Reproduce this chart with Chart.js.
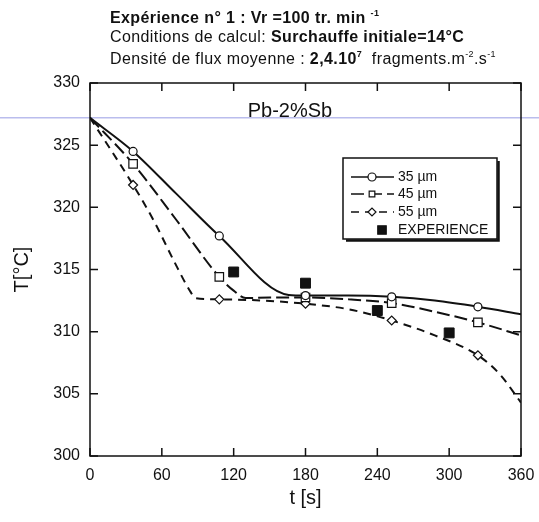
<!DOCTYPE html>
<html>
<head>
<meta charset="utf-8">
<script src="https://cdn.jsdelivr.net/npm/chart.js@4/dist/chart.umd.min.js"></script>
<style>
  body { margin: 0; background: #fff; }
  #wrap { position: relative; width: 539px; height: 522px; font-family: "Liberation Sans", Arial, sans-serif; color: #111; }
  #wrap canvas { position: absolute; left: 0; top: 0; }
  .hd { position: absolute; left: 110px; font-size: 16px; letter-spacing: 0.4px; white-space: nowrap; }
  .hd sup { font-size: 9px; vertical-align: 7px; line-height: 0; }
</style>
</head>
<body>
<div id="wrap">
  <canvas id="chart" width="539" height="522"></canvas>
  <div class="hd" style="top:9px;font-weight:bold">Expérience n° 1 : Vr =100 tr. min <sup>-1</sup></div>
  <div class="hd" style="top:28px">Conditions de calcul: <b>Surchauffe initiale=14°C</b></div>
  <div class="hd" style="top:50px">Densité de flux moyenne : <b>2,4.10<sup>7</sup></b>&nbsp; fragments.m<sup>-2</sup>.s<sup>-1</sup></div>
</div>

<script>
/* ---------------- DATA ---------------- */
const markerTimes = [36, 108, 180, 252, 324];

const t35 = [0, 36, 72, 108, 166, 180, 216, 252, 288, 324, 360];
const T35 = [327.2, 324.5, 321.1, 317.7, 312.95, 312.9, 312.9, 312.8, 312.5, 312.0, 311.4];

const t45 = [0, 36, 72, 108, 120, 130, 150, 180, 216, 252, 288, 324, 360];
const T45 = [327.2, 323.5, 319.0, 314.4, 313.3, 312.7, 312.75, 312.75, 312.6, 312.3, 311.6, 310.75, 309.7];

const t55 = [0, 36, 54, 70, 84, 88, 108, 144, 180, 216, 252, 288, 324, 342, 360];
const T55 = [327.2, 321.8, 318.8, 315.7, 313.2, 312.7, 312.6, 312.5, 312.25, 311.8, 310.9, 309.7, 308.1, 306.6, 304.3];

const tExp = [120, 180, 240, 300];
const TExp = [314.8, 313.9, 311.7, 309.9];

const seriesLabels = ["35 µm", "45 µm", "55 µm", "EXPERIENCE"];
const xTicks = [0, 60, 120, 180, 240, 300, 360];
const yTicks = [300, 305, 310, 315, 320, 325, 330];
const alloyLabel = "Pb-2%Sb";

/* ---------------- HELPERS ---------------- */
function pts(ts, vs) {
  return ts.map((t, i) => ({ x: t, y: vs[i] }));
}

function radii(ts, r) {
  return ts.map((t) => (markerTimes.includes(t) ? r : 0));
}

function curve(label, ts, vs, dash, style, r) {
  return {
    label,
    data: pts(ts, vs),
    borderColor: "#111",
    borderWidth: 2,
    borderDash: dash,
    pointStyle: style,
    pointRadius: radii(ts, r),
    pointBackgroundColor: "#fff",
    pointBorderColor: "#111",
    pointBorderWidth: 1.2,
    cubicInterpolationMode: "monotone",
    fill: false
  };
}

/* ---------------- PLUGINS ---------------- */
// frame, inward ticks, scan line and the alloy label
const framePlugin = {
  id: "frame",
  beforeDatasetsDraw(chart) {
    const { ctx, scales } = chart;
    ctx.save();
    // faint blue scan line across the page
    const yb = scales.y.getPixelForValue(327.2);
    ctx.strokeStyle = "rgba(140,145,225,0.6)";
    ctx.lineWidth = 1.5;
    ctx.beginPath();
    ctx.moveTo(0, yb);
    ctx.lineTo(chart.width, yb);
    ctx.stroke();
    ctx.restore();
  },
  afterDatasetsDraw(chart) {
    const { ctx, chartArea: a, scales } = chart;
    ctx.save();
    ctx.strokeStyle = "#111";
    ctx.lineWidth = 1.5;
    ctx.strokeRect(a.left, a.top, a.right - a.left, a.bottom - a.top);

    const len = 8;
    ctx.beginPath();
    xTicks.forEach((v) => {
      const x = scales.x.getPixelForValue(v);
      ctx.moveTo(x, a.bottom); ctx.lineTo(x, a.bottom - len);
      ctx.moveTo(x, a.top); ctx.lineTo(x, a.top + len);
    });
    yTicks.forEach((v) => {
      const y = scales.y.getPixelForValue(v);
      ctx.moveTo(a.left, y); ctx.lineTo(a.left + len, y);
      ctx.moveTo(a.right, y); ctx.lineTo(a.right - len, y);
    });
    ctx.stroke();

    ctx.fillStyle = "#111";
    ctx.font = "20px 'Liberation Sans', Arial, sans-serif";
    ctx.textAlign = "center";
    ctx.textBaseline = "middle";
    ctx.fillText(alloyLabel, scales.x.getPixelForValue(167), scales.y.getPixelForValue(327.7));
    ctx.restore();
  }
};

// boxed legend drawn inside the plot
const legendPlugin = {
  id: "boxLegend",
  afterDraw(chart) {
    const ctx = chart.ctx;
    const box = { l: 343, t: 158, r: 497, b: 239 };
    const rows = [177, 194, 212, 230];
    ctx.save();
    ctx.fillStyle = "#fff";
    ctx.fillRect(box.l, box.t, box.r - box.l, box.b - box.t);
    ctx.strokeStyle = "#111";
    ctx.lineWidth = 1.5;
    ctx.strokeRect(box.l, box.t, box.r - box.l, box.b - box.t);
    // shadow on right / bottom
    ctx.lineWidth = 2.5;
    ctx.beginPath();
    ctx.moveTo(box.r + 1.5, box.t + 3);
    ctx.lineTo(box.r + 1.5, box.b + 1.5);
    ctx.lineTo(box.l + 3, box.b + 1.5);
    ctx.stroke();

    ctx.font = "14px 'Liberation Sans', Arial, sans-serif";
    ctx.textBaseline = "middle";
    chart.data.datasets.forEach((ds, i) => {
      const y = rows[i];
      if (ds.showLine !== false) {
        ctx.strokeStyle = "#111";
        ctx.lineWidth = 1.5;
        ctx.setLineDash(ds.borderDash || []);
        ctx.beginPath();
        ctx.moveTo(351, y);
        ctx.lineTo(394, y);
        ctx.stroke();
        ctx.setLineDash([]);
        ctx.fillStyle = "#fff";
        ctx.strokeStyle = "#111";
        ctx.lineWidth = 1.2;
        Chart.helpers.drawPoint(ctx, { pointStyle: ds.pointStyle, radius: 4, rotation: 0, borderWidth: 1.2 }, 372, y);
      } else {
        ctx.fillStyle = "#111";
        ctx.strokeStyle = "#111";
        Chart.helpers.drawPoint(ctx, { pointStyle: "rect", radius: 6, rotation: 0, borderWidth: 1 }, 382, y);
      }
      ctx.fillStyle = "#111";
      ctx.textAlign = "left";
      ctx.fillText(ds.label, 398, y);
    });
    ctx.restore();
  }
};

/* ---------------- CHART ---------------- */
const tickFont = { family: "'Liberation Sans', Arial, sans-serif", size: 16 };
const titleFont = { family: "'Liberation Sans', Arial, sans-serif", size: 20 };

new Chart(document.getElementById("chart"), {
  type: "line",
  data: {
    datasets: [
      curve(seriesLabels[0], t35, T35, [], "circle", 4),
      curve(seriesLabels[1], t45, T45, [13, 5], "rect", 6),
      curve(seriesLabels[2], t55, T55, [8, 6], "rectRot", 4.5),
      {
        label: seriesLabels[3],
        data: pts(tExp, TExp),
        showLine: false,
        pointStyle: "rect",
        pointRadius: 7,
        pointBackgroundColor: "#111",
        pointBorderColor: "#111"
      }
    ]
  },
  options: {
    responsive: false,
    animation: false,
    layout: { padding: { left: 0, right: 18, top: 83, bottom: 0 } },
    plugins: { legend: { display: false }, tooltip: { enabled: false } },
    scales: {
      x: {
        type: "linear",
        min: 0,
        max: 360,
        afterBuildTicks: (s) => { s.ticks = xTicks.map((v) => ({ value: v })); },
        afterFit: (s) => { s.height = 66; s.paddingRight = 0; s.paddingLeft = 0; },
        grid: { display: false, drawTicks: false },
        border: { display: false },
        ticks: { font: tickFont, color: "#111", padding: 10, maxRotation: 0 },
        title: { display: true, text: "t [s]", font: titleFont, color: "#111", padding: { top: 2, bottom: 12 } }
      },
      y: {
        type: "linear",
        min: 300,
        max: 330,
        afterBuildTicks: (s) => { s.ticks = yTicks.map((v) => ({ value: v })); },
        afterFit: (s) => { s.width = 90; },
        grid: { display: false, drawTicks: false },
        border: { display: false },
        ticks: { font: tickFont, color: "#111", padding: 10 },
        title: { display: true, text: "T[°C]", font: titleFont, color: "#111", padding: { top: 10, bottom: 0 } }
      }
    }
  },
  plugins: [framePlugin, legendPlugin]
});
</script>
</body>
</html>
